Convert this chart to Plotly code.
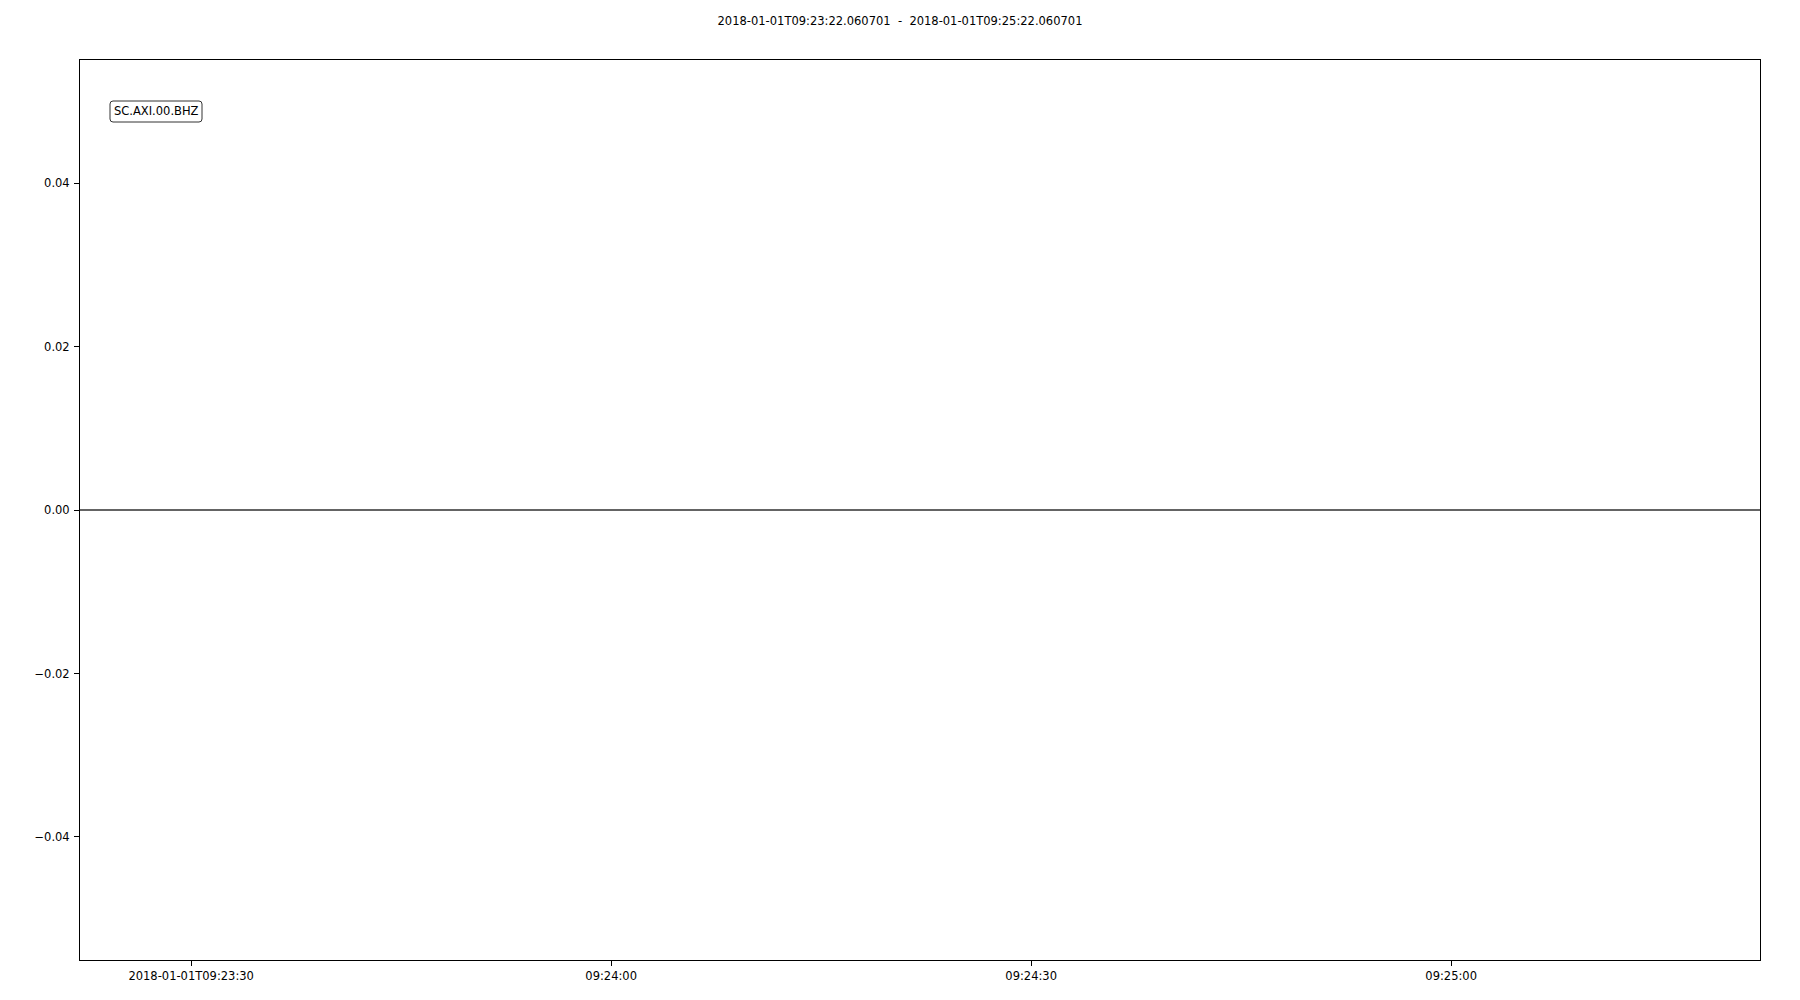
import plotly.graph_objects as go

# Data
times = ["2018-01-01 09:23:22.060701", "2018-01-01 09:25:22.060701"]
amplitude = [0.0, 0.0]
trace_label = "SC.AXI.00.BHZ"
title_text = "2018-01-01T09:23:22.060701  -  2018-01-01T09:25:22.060701"
x_tick_vals = ["2018-01-01 09:23:30", "2018-01-01 09:24:00", "2018-01-01 09:24:30", "2018-01-01 09:25:00"]
x_tick_text = ["2018-01-01T09:23:30", "09:24:00", "09:24:30", "09:25:00"]
y_tick_vals = [-0.04, -0.02, 0.0, 0.02, 0.04]
y_tick_text = ["\u22120.04", "\u22120.02", "0.00", "0.02", "0.04"]

FONT = "DejaVu Sans"

fig = go.Figure()
fig.add_trace(go.Scatter(
    x=times, y=amplitude, mode="lines",
    line=dict(color="#303030", width=1.5),
    showlegend=False, hoverinfo="skip",
))

fig.update_layout(
    width=1800, height=1000,
    margin=dict(l=80, r=40, t=60, b=40),
    paper_bgcolor="white", plot_bgcolor="white",
    font=dict(family=FONT, size=11.5, color="black"),
    title=dict(text=title_text, x=0.5, xanchor="center", y=1 - 20.5 / 1000,
               yanchor="middle", yref="container",
               font=dict(family=FONT, size=11.5, color="black")),
    showlegend=False,
)

fig.update_xaxes(
    type="date",
    range=[times[0], times[-1]],
    tickmode="array", tickvals=x_tick_vals, ticktext=x_tick_text,
    ticks="outside", ticklen=5, tickwidth=1, tickcolor="black",
    showline=True, linecolor="black", linewidth=1, mirror=True,
    showgrid=False, zeroline=False, ticklabelstandoff=0,
    tickfont=dict(family=FONT, size=11.5, color="black"),
)
fig.update_yaxes(
    range=[-0.05505, 0.05505],
    tickmode="array", tickvals=y_tick_vals, ticktext=y_tick_text,
    ticks="outside", ticklen=5, tickwidth=1, tickcolor="black",
    showline=True, linecolor="black", linewidth=1, mirror=True,
    showgrid=False, zeroline=False, ticklabelstandoff=2,
    tickfont=dict(family=FONT, size=11.5, color="black"),
)

# rounded label box (pixel-sized, anchored to the plot's top-left corner)
x0, x1, y0, y1, r = 30, 122, -62, -41, 3
path = (f"M{x0 + r},{y1} L{x1 - r},{y1} Q{x1},{y1} {x1},{y1 - r} "
        f"L{x1},{y0 + r} Q{x1},{y0} {x1 - r},{y0} "
        f"L{x0 + r},{y0} Q{x0},{y0} {x0},{y0 + r} "
        f"L{x0},{y1 - r} Q{x0},{y1} {x0 + r},{y1} Z")
fig.add_shape(
    type="path", path=path,
    xref="paper", yref="paper", xsizemode="pixel", ysizemode="pixel",
    xanchor=0, yanchor=1,
    line=dict(color="#333333", width=1), fillcolor="white", layer="above",
)

fig.add_annotation(
    text=trace_label, xref="paper", yref="paper",
    x=76 / 1680, y=1 - 51.5 / 900, xanchor="center", yanchor="middle",
    showarrow=False,
    font=dict(family=FONT, size=11.5, color="black"),
)

fig.write_html("out.html")
